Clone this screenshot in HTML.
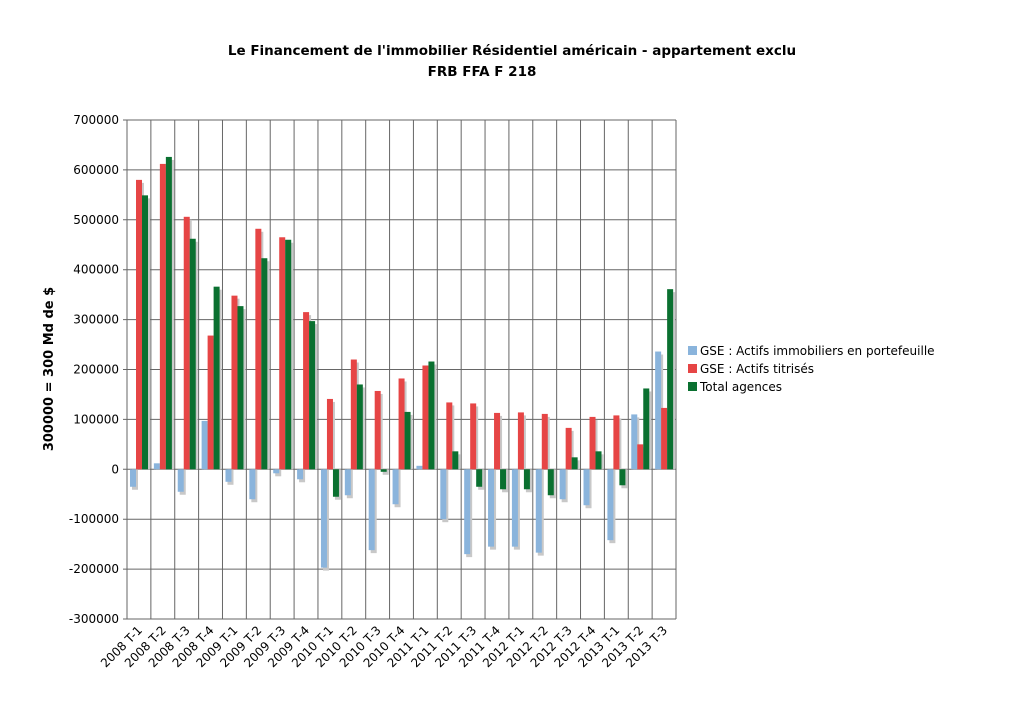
<!DOCTYPE html>
<html><head><meta charset="utf-8"><style>body{margin:0;background:#fff}svg{display:block}</style></head>
<body>
<svg id="chart" width="1024" height="723" xmlns="http://www.w3.org/2000/svg" font-family="'DejaVu Sans', 'Liberation Sans', sans-serif">
<text x="512" y="55" text-anchor="middle" font-size="13.5" font-weight="bold">Le Financement de l'immobilier Résidentiel américain - appartement exclu</text>
<text x="482" y="76" text-anchor="middle" font-size="13.5" font-weight="bold">FRB FFA F 218</text>
<text transform="translate(53,369) rotate(-90)" text-anchor="middle" font-size="13" font-weight="bold">300000 = 300 Md de $</text>
<g id="grid"></g><g id="bars"></g><g id="labels"></g>
<g>
<rect x="688" y="346" width="9" height="9" fill="#8ab4dc"/><text x="700" y="355" font-size="12">GSE : Actifs immobiliers en portefeuille</text>
<rect x="688" y="364" width="9" height="9" fill="#e64545"/><text x="700" y="373" font-size="12">GSE : Actifs titrisés</text>
<rect x="688" y="382" width="9" height="9" fill="#0a7030"/><text x="700" y="391" font-size="12">Total agences</text>
</g>
</svg>
<script>
const categories=["2008 T-1","2008 T-2","2008 T-3","2008 T-4","2009 T-1","2009 T-2","2009 T-3","2009 T-4","2010 T-1","2010 T-2","2010 T-3","2010 T-4","2011 T-1","2011 T-2","2011 T-3","2011 T-4","2012 T-1","2012 T-2","2012 T-3","2012 T-4","2013 T-1","2013 T-2","2013 T-3"];
const portefeuille=[-35000,12000,-45000,97000,-25000,-60000,-8000,-20000,-197000,-52000,-162000,-70000,7000,-100000,-170000,-155000,-155000,-167000,-60000,-72000,-142000,110000,236000];
const titrises=[580000,612000,506000,268000,348000,482000,465000,315000,141000,220000,157000,182000,208000,134000,132000,113000,114000,111000,83000,105000,108000,50000,123000];
const total=[549000,626000,462000,366000,327000,423000,460000,297000,-55000,170000,-5000,115000,216000,36000,-35000,-40000,-40000,-52000,24000,36000,-32000,162000,361000];
const yTicks=[-300000,-200000,-100000,0,100000,200000,300000,400000,500000,600000,700000];
const NS="http://www.w3.org/2000/svg";
const X0=127,X1=676,Y0=120,Y1=619,yMin=-300000,yMax=700000;
const bw=(X1-X0)/categories.length;
const y=v=>Y0+(yMax-v)/(yMax-yMin)*(Y1-Y0);
const xc=i=>X0+i*bw;
function mk(tag,at,parent){const e=document.createElementNS(NS,tag);for(const k in at)e.setAttribute(k,at[k]);parent.appendChild(e);return e;}
const grid=document.getElementById('grid'),bars=document.getElementById('bars'),labels=document.getElementById('labels');
yTicks.forEach(t=>{
 const l=mk('line',{x1:X0-4,x2:X1,y1:y(t),y2:y(t),stroke:'#666','stroke-width':1},grid);
 
 
 const tx=mk('text',{x:X0-8,y:y(t)+4,'text-anchor':'end','font-size':12},grid);
 tx.textContent=t;
 
 
});
for(let i=0;i<=categories.length;i++){
 const l=mk('line',{x1:xc(i),x2:xc(i),y1:Y0,y2:Y1,stroke:'#666','stroke-width':1},grid);
 
 
}
const series=[[portefeuille,'#8ab4dc',3,'bar-portefeuille'],[titrises,'#e64545',9,'bar-titrises'],[total,'#0a7030',15,'bar-total']];
categories.forEach((c,i)=>{
 series.forEach(([arr,col,off,name])=>{
  const v=arr[i],top=Math.min(y(v),y(0)),h=Math.abs(y(v)-y(0));
  mk('rect',{x:xc(i)+off+2,y:top+(v>=0?3:0),width:6,height:Math.max(h-(v>=0?3:-3),0),fill:'#c8c8c8'},bars);
  const r=mk('rect',{x:xc(i)+off,y:top,width:6,height:h,fill:col},bars);
  
  
 });
 const t=mk('text',{transform:`translate(${xc(i)+bw/2+4},${Y1+12}) rotate(-45)`,'text-anchor':'end','font-size':12},labels);
 t.textContent=c;
 
 
});
</script>
</body></html>
